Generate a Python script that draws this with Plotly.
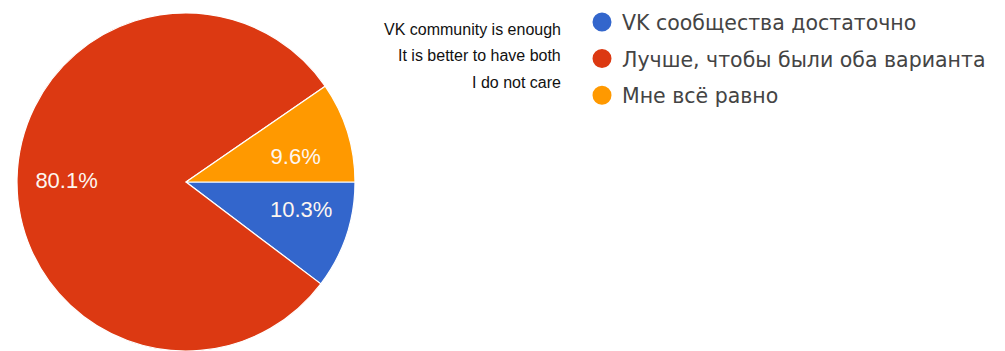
import plotly.graph_objects as go

labels_ru = ['VK сообщества достаточно', 'Лучше, чтобы были оба варианта', 'Мне всё равно']
labels_en = ['VK community is enough', 'It is better to have both', 'I do not care']
shares = [10.3, 80.1, 9.6]
colors = ['#3366CC', '#DC3912', '#FF9900']

W, H, TOP = 1005, 351, 13
plot_h = H - TOP
cx, cy, R = 186, 182, 169          # pie centre / radius in px
r_lab = 82                         # radius of the helper pie that carries the labels


def dom(r):
    return dict(x=[(cx - r) / W, (cx + r) / W],
                y=[(H - cy - r) / plot_h, (H - cy + r) / plot_h])


fig = go.Figure()

fig.add_trace(go.Pie(
    labels=labels_ru, values=shares, sort=False,
    direction='clockwise', rotation=90,
    marker=dict(colors=colors, line=dict(color='white', width=1.2)),
    textinfo='none', showlegend=False, hoverinfo='label+percent',
    domain=dom(R),
))

# transparent inner pie: its outside labels land where the source puts the percentages
fig.add_trace(go.Pie(
    labels=labels_ru, values=shares, sort=False,
    direction='clockwise', rotation=90,
    marker=dict(colors=['rgba(0,0,0,0)'] * 3, line=dict(width=0)),
    texttemplate='%{percent:.1%}', textposition='outside',
    textfont=dict(family='Liberation Sans, Arial', size=22, color='#FDF6F0'),
    showlegend=False, hoverinfo='skip',
    domain=dom(r_lab),
))

# legend entries drawn as round markers, like the source
for i, name in enumerate(labels_ru):
    fig.add_trace(go.Scatter(
        x=[None], y=[None], mode='markers', name=name,
        legendgroup=str(i),
        marker=dict(symbol='circle', size=16, color=colors[i],
                    line=dict(color=colors[i], width=3)),
    ))

# english translations next to the legend
for i, txt in enumerate(labels_en):
    fig.add_annotation(
        text=txt, xref='paper', yref='paper',
        x=563 / W, y=(H - (29 + 27 * i)) / plot_h,
        xanchor='right', yanchor='middle', showarrow=False,
        font=dict(family='Liberation Sans, Arial', size=16, color='#111111'),
    )

fig.update_layout(
    width=W, height=H,
    margin=dict(l=0, r=0, t=TOP, b=0, autoexpand=False),
    paper_bgcolor='white', plot_bgcolor='white',
    xaxis=dict(visible=False), yaxis=dict(visible=False),
    legend=dict(
        xref='container', yref='container', x=582 / W, y=0.994,
        xanchor='left', yanchor='top',
        font=dict(family='DejaVu Sans', size=20.5, color='#444444'),
        tracegroupgap=7, itemsizing='trace',
    ),
)

# drop the default 8px page margin so the figure sits at the window corner
fig.write_html('out.html', config={'displayModeBar': False},
               post_script="document.body.style.margin='0';")
